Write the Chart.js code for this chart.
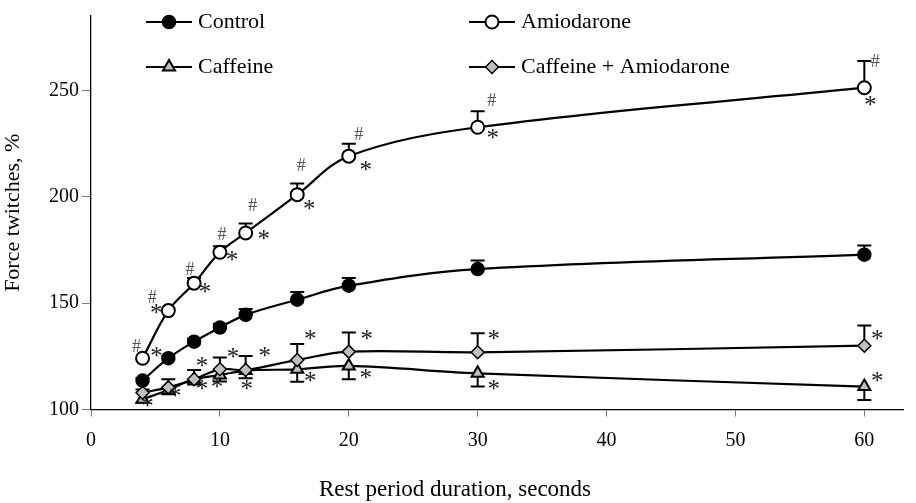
<!DOCTYPE html>
<html>
<head>
<meta charset="utf-8">
<script src="https://cdn.jsdelivr.net/npm/chart.js@4.4.1/dist/chart.umd.min.js"></script>
<style>
  html, body { margin: 0; padding: 0; background: #ffffff; }
  #wrap { width: 916px; height: 503px; position: relative; }
</style>
</head>
<body>
<div id="wrap"><canvas id="c" width="916" height="503"></canvas></div>
<script>
// ---------- data ----------
const restSeconds = [4, 6, 8, 10, 12, 16, 20, 30, 60];

const controlValues = [113.6, 124.1, 131.9, 138.5, 144.5, 151.6, 158.2, 166.0, 172.8];
const controlErrors = [1.2, 1.2, 1.5, 1.8, 2.7, 3.6, 3.6, 4.1, 4.3];

const amiodaroneValues = [124.1, 146.5, 159.4, 173.9, 183.0, 201.0, 219.1, 232.7, 251.3];
const amiodaroneErrors = [1.0, 1.5, 2.4, 2.8, 4.4, 5.2, 5.8, 7.5, 12.5];

const caffeineValues = [104.8, 109.2, 114.2, 116.2, 118.3, 118.9, 120.5, 117.0, 110.8];
const caffeineErrors = [1.5, 2.0, 2.5, 3.0, 3.6, 5.8, 6.3, 6.2, 6.3];

const caffAmioValues = [107.9, 110.4, 114.2, 118.9, 118.6, 123.3, 127.2, 126.9, 130.0];
const caffAmioErrors = [1.5, 3.8, 4.4, 5.5, 6.6, 7.5, 9.0, 9.0, 9.5];

const yTickValues = [100, 150, 200, 250];
const xTickValues = [0, 10, 20, 30, 40, 50, 60];

const seriesNames = ['Control', 'Amiodarone', 'Caffeine', 'Caffeine + Amiodarone'];
const xAxisTitle = 'Rest period duration, seconds';
const yAxisTitle = 'Force twitches, %';

// significance marks: symbol per point for each series
const amioHash = ['#', '#', '#', '#', '#', '#', '#', '#', '#'];
const amioStar = ['*', '*', '*', '*', '*', '*', '*', '*', '*'];
const caffStar = ['*', '*', '*', '*', '*', '*', '*', '*', '*'];
const caffAmioStar = [null, null, '*', '*', '*', '*', '*', '*', '*'];

// ---------- styles / placement (pixel offsets of marks from their points) ----------
const amioHashOffset = [[-6,-13],[-16,-14],[-4,-15],[2,-19],[7,-28],[4,-30],[10,-23],[14,-28],[11,-27]];
const amioStarOffset = [[14,-6],[-12,-2],[11,5],[12,4],[18,2],[12,10],[17,10],[15,7],[6,13]];
const caffStarOffset = [[5,3],[7,2],[8,6],[-3,8],[1,14],[13,8],[17,8],[16,12],[13,-10]];
const caffAmioStarOffset = [null,null,[8,-17],[13,-16],[19,-18],[13,-25],[18,-17],[16,-17],[13,-11]];

const SERIF = '"Liberation Serif", "DejaVu Serif", serif';
const GREY_FILL = '#bfbfbf';

function pts(vals) { return restSeconds.map((x, i) => ({ x: x, y: vals[i] })); }

const datasets = [
  { label: seriesNames[0], data: pts(controlValues), errors: controlErrors, errDir: 1,
    borderColor: '#000', backgroundColor: '#000', pointStyle: 'circle', pointRadius: 6.5,
    pointBackgroundColor: '#000', pointBorderColor: '#000', pointBorderWidth: 1.5, order: 0 },
  { label: seriesNames[1], data: pts(amiodaroneValues), errors: amiodaroneErrors, errDir: 1,
    errSkip: [true, true, false, false, false, false, false, false, false],
    borderColor: '#000', backgroundColor: '#fff', pointStyle: 'circle', pointRadius: 6.5,
    pointBackgroundColor: '#fff', pointBorderColor: '#000', pointBorderWidth: 2, order: 0 },
  { label: seriesNames[2], data: pts(caffeineValues), errors: caffeineErrors, errDir: -1,
    borderColor: '#000', backgroundColor: GREY_FILL, pointStyle: 'triangle', pointRadius: 7,
    pointBackgroundColor: GREY_FILL, pointBorderColor: '#000', pointBorderWidth: 2, order: 2 },
  { label: seriesNames[3], data: pts(caffAmioValues), errors: caffAmioErrors, errDir: 1,
    borderColor: '#000', backgroundColor: GREY_FILL, pointStyle: 'rectRot', pointRadius: 6.5,
    pointBackgroundColor: GREY_FILL, pointBorderColor: '#000', pointBorderWidth: 1.5, order: 1 }
];
datasets.forEach(d => { d.borderWidth = 2.2; d.tension = 0.35; d.fill = false; d.pointHoverRadius = d.pointRadius; });

const marks = [
  { ds: 1, sym: amioHash, off: amioHashOffset, font: '18px ' + SERIF, color: '#555' },
  { ds: 1, sym: amioStar, off: amioStarOffset, font: '25px ' + SERIF, color: '#222' },
  { ds: 2, sym: caffStar, off: caffStarOffset, font: '25px ' + SERIF, color: '#222' },
  { ds: 3, sym: caffAmioStar, off: caffAmioStarOffset, font: '25px ' + SERIF, color: '#222' }
];

// ---------- plugins ----------
const errorBars = {
  id: 'errorBars',
  beforeDatasetsDraw(chart) {
    const ctx = chart.ctx, ys = chart.scales.y;
    ctx.save();
    ctx.strokeStyle = '#000';
    ctx.lineWidth = 2;
    chart.data.datasets.forEach((ds, di) => {
      const meta = chart.getDatasetMeta(di);
      meta.data.forEach((el, i) => {
        if (ds.errSkip && ds.errSkip[i]) return;
        const v = ds.data[i].y + ds.errDir * ds.errors[i];
        const yEnd = ys.getPixelForValue(v);
        ctx.beginPath();
        ctx.moveTo(el.x, el.y);
        ctx.lineTo(el.x, yEnd);
        ctx.moveTo(el.x - 7, yEnd);
        ctx.lineTo(el.x + 7, yEnd);
        ctx.stroke();
      });
    });
    ctx.restore();
  }
};

const sigMarks = {
  id: 'sigMarks',
  afterDatasetsDraw(chart) {
    const ctx = chart.ctx;
    ctx.save();
    marks.forEach(m => {
      const meta = chart.getDatasetMeta(m.ds);
      ctx.font = m.font;
      ctx.fillStyle = m.color;
      ctx.textAlign = 'center';
      ctx.textBaseline = 'alphabetic';
      meta.data.forEach((el, i) => {
        const s = m.sym[i];
        if (!s || !m.off[i]) return;
        const mt = ctx.measureText(s);
        const cx = el.x + m.off[i][0];
        const cy = el.y + m.off[i][1];
        const mid = (mt.actualBoundingBoxAscent - mt.actualBoundingBoxDescent) / 2;
        ctx.fillText(s, cx, cy + mid);
      });
    });
    ctx.restore();
  }
};

const customLegend = {
  id: 'customLegend',
  afterDraw(chart) {
    const ctx = chart.ctx;
    const cols = [146, 469];
    const rows = [22, 67];
    ctx.save();
    chart.data.datasets.forEach((ds, i) => {
      const x0 = cols[i % 2], y0 = rows[Math.floor(i / 2)];
      ctx.strokeStyle = '#000';
      ctx.lineWidth = 2.2;
      ctx.beginPath();
      ctx.moveTo(x0, y0);
      ctx.lineTo(x0 + 46, y0);
      ctx.stroke();
      ctx.fillStyle = ds.pointBackgroundColor;
      ctx.strokeStyle = ds.pointBorderColor;
      ctx.lineWidth = ds.pointBorderWidth;
      Chart.helpers.drawPoint(ctx, { pointStyle: ds.pointStyle, radius: ds.pointRadius, rotation: 0, borderWidth: ds.pointBorderWidth }, x0 + 23, y0);
      ctx.fillStyle = '#000';
      ctx.font = '22px ' + SERIF;
      ctx.textAlign = 'left';
      ctx.textBaseline = 'middle';
      ctx.fillText(ds.label, x0 + 52, y0);
    });
    ctx.restore();
  }
};

// x-axis title, centred where the reference has it (slightly left of the plot centre)
const xTitle = {
  id: 'xTitle',
  afterDraw(chart) {
    const ctx = chart.ctx;
    ctx.save();
    ctx.fillStyle = '#000';
    ctx.font = '23px ' + SERIF;
    ctx.textAlign = 'center';
    ctx.textBaseline = 'middle';
    ctx.fillText(xAxisTitle, 455, 490);
    ctx.restore();
  }
};

new Chart(document.getElementById('c'), {
  type: 'line',
  data: { datasets: datasets },
  options: {
    responsive: false,
    animation: false,
    events: [],
    layout: { padding: { top: 16, right: 13, left: 0, bottom: 0 } },
    plugins: { legend: { display: false }, tooltip: { enabled: false } },
    scales: {
      x: {
        type: 'linear', min: 0, max: 63,
        afterBuildTicks: s => { s.ticks = xTickValues.map(v => ({ value: v })); },
        afterFit: s => { s.height = 93.5; },
        border: { color: '#000', width: 1.3 },
        grid: { drawOnChartArea: false, color: '#777', tickLength: 7, tickWidth: 1 },
        ticks: { color: '#000', font: { family: SERIF, size: 20 }, padding: 12, maxRotation: 0 },
        title: { display: false, text: xAxisTitle }
      },
      y: {
        type: 'linear', min: 100, max: 285,
        afterBuildTicks: s => { s.ticks = yTickValues.map(v => ({ value: v })); },
        afterFit: s => { s.width = 91; },
        border: { color: '#000', width: 1.3 },
        grid: { drawOnChartArea: false, color: '#777', tickLength: 9, tickWidth: 1 },
        ticks: { color: '#000', font: { family: SERIF, size: 20 }, padding: 3 },
        title: { display: true, text: yAxisTitle, color: '#000',
                 font: { family: SERIF, size: 22 }, padding: { top: 0, bottom: 3 } }
      }
    }
  },
  plugins: [errorBars, sigMarks, customLegend, xTitle]
});
</script>
</body>
</html>
